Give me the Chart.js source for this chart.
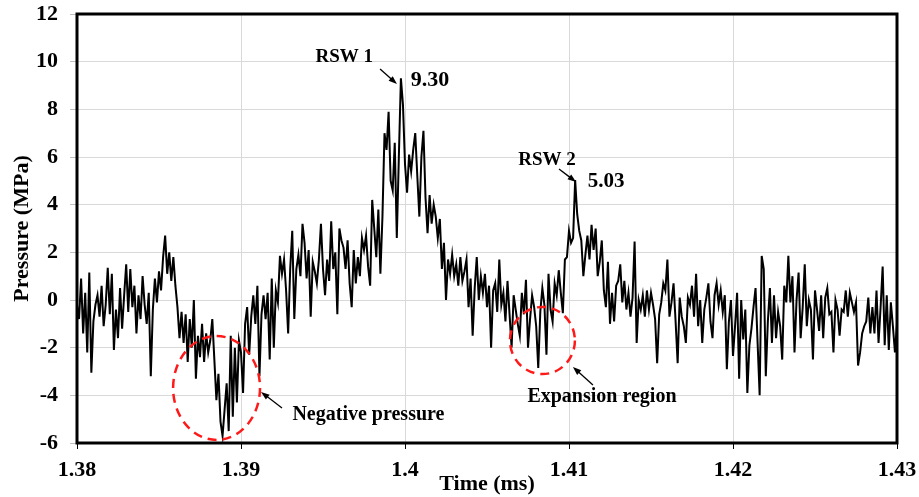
<!DOCTYPE html>
<html>
<head>
<meta charset="utf-8">
<title>Pressure vs time</title>
<script src="https://cdn.jsdelivr.net/npm/chart.js@4.4.0/dist/chart.umd.min.js"></script>
<style>
  html, body { margin: 0; padding: 0; background: #fff; }
  #wrap { width: 919px; height: 497px; }
</style>
</head>
<body>
<div id="wrap"><canvas id="pressureChart" width="919" height="497"></canvas></div>
<script>
// Sampling of the pressure trace (ms)
const timeStart = 1.38;
const timeStep = 0.000125;

// Pressure readings (MPa), one array per 0.01 ms window
const p1380 = [
  -0.2, -0.8, 0.9, -1.4, 0.3, -2.2, 1.15, -3.05, -0.9, -0.2,
  0.2, -0.7, 0.6, -1.1, -0.2, 1.35, -0.6, 1.1, -2.1, -0.4,
  -1.6, 0.5, -1.2, 0.2, 1.5, -0.5, 1.3, -0.3, 0.6, -1.4,
  0.2, -0.8, 1.0, -0.2, -1.0, 0.3, -3.2, -0.4, 0.9, -0.1,
  1.2, 0.4, 1.8, 2.7, 1.1, 2.0, 0.8, 1.8, 0.6, -0.3,
  -1.6, -0.5, -1.8, -0.6, -2.6, -0.8, -2.0, 0.0, -3.3, -1.5,
  -2.4, -1.0, -2.6, -1.4, -2.2, -1.7, -0.8, -2.5, -4.2, -3.1,
  -5.1, -5.7, -4.6, -3.5, -5.5, -1.5, -4.9, -2.0, -4.3, -1.7
];
const p1390 = [
  -2.2, -3.9, -1.0, -0.3, -2.3, -0.7, 0.2, -1.0, 0.6, -3.2,
  -0.6, 0.2, -0.8, 0.3, -2.5, 0.9, -2.0, 0.4, -0.1, 1.85,
  1.1, 1.7, 0.4, -1.4, 1.3, 2.9, -0.8, 1.3, 1.9, 1.0,
  3.2, 2.4, 0.9, 2.1, -0.7, 1.6, 1.2, 0.7, 1.7, 3.2,
  1.3, 0.2, 1.7, 0.8, 3.3, 1.3, 2.0, -0.6, 3.0, 2.5,
  2.2, 1.3, 2.5, 0.7, -0.3, 2.1, 0.7, 1.8, 1.0, 2.6,
  2.1, 2.7, 1.4, 0.6, 4.2, 3.0, 1.8, 3.8, 1.1, 3.5,
  7.0, 6.3, 7.9, 5.0, 4.6, 6.6, 2.6, 6.0, 9.3, 8.2
];
const p1400 = [
  5.7, 4.5, 6.1, 5.4, 6.3, 7.0, 5.2, 3.5, 6.0, 7.1,
  4.3, 2.8, 4.4, 3.2, 4.0, 3.5, 2.6, 3.4, 1.3, 2.4,
  0.0, 1.7, 1.1, 1.9, 1.0, 1.5, 0.6, 1.8, 0.8, 1.2,
  1.7, -0.3, 0.9, -1.5, 0.5, 1.8, 0.0, 1.0, 0.3, 1.1,
  -0.3, 0.6, -2.0, 0.4, 0.7, -0.5, 1.7, -0.2, 0.3, -0.9,
  0.8, -0.6, -2.0, 0.2, -0.4, -1.0, -1.5, 0.3, -0.6, 0.85,
  -2.0, -0.8, 0.2, -0.3, -1.1, -2.85, -0.5, 0.5, -0.2, -2.3,
  1.1, -0.4, -0.9, 0.7, 0.2, 1.25, 0.3, -0.55, 1.7, 1.8
];
const p1410 = [
  2.9, 2.4, 2.6, 5.03, 3.6, 2.9, 2.5, 1.0, 1.9, 2.7,
  1.7, 3.15, 2.1, 3.0, 1.0, 1.6, 2.5, 0.4, -0.3, 1.6,
  -1.0, 0.3, -0.9, 0.6, 0.8, 1.5, -0.1, 0.8, -0.4, 0.3,
  -0.7, 0.1, 2.45, -1.8, 0.0, -0.4, 0.2, -0.7, 0.4, -0.4,
  0.3, -0.2, -0.8, -2.65, -0.6, -0.1, 0.7, 0.4, 1.7, -0.7,
  -0.1, 0.7, -0.9, -2.65, 0.1, -0.7, -1.1, -1.8, 0.1, -0.2,
  0.6, -0.7, 1.1, -1.1, 0.0, -1.8, -0.4, 0.1, 0.7, -0.9,
  -1.6, 0.2, 0.7, -0.2, 0.4, -0.5, 0.2, -2.9, -0.9, 0.0
];
const p1420 = [
  -2.35, -1.1, 0.3, -3.3, 0.0, -1.65, -0.4, -3.9, -1.9, -1.2,
  -0.3, 0.5, -1.8, -4.0, 1.85, 1.3, -3.2, -0.9, 0.5, -1.8,
  0.2, -1.6, -0.5, -1.1, -2.5, 0.6, -0.1, 1.85, -0.1, 1.0,
  -2.2, 0.0, 1.15, -1.6, -0.3, 1.5, -1.1, 0.0, -0.4, -2.5,
  0.4, -0.4, -1.3, 0.2, -1.6, 0.1, 0.5, -0.6, -0.5, -2.2,
  0.0, -0.4, -1.5, -0.4, -0.5, 0.4, -0.7, 0.3, -0.1, -0.5,
  -0.1, -2.75, -2.2, -1.4, -1.1, -0.9, 0.1, -1.4, -0.3, -1.4,
  0.4, -1.8, -0.3, 1.4, -1.9, 0.2, -2.1, -0.1, -1.1, -2.2,
  -1.0
];

// Axis ticks
const xTickValues = [1.38, 1.39, 1.40, 1.41, 1.42, 1.43];
const yTickValues = [-6, -4, -2, 0, 2, 4, 6, 8, 10, 12];

// Annotations (data units)
const noteTexts = ['RSW 1', '9.30', 'RSW 2', '5.03', 'Negative pressure', 'Expansion region'];
const noteX = [1.39630, 1.40152, 1.40866, 1.41226, 1.39777, 1.41201];
const noteY = [10.2, 9.23, 5.87, 4.95, -4.83, -4.07];
const noteSize = [19, 22, 19, 21, 20, 20];

const arrowFromX = [1.39848, 1.40939, 1.39250, 1.41146];
const arrowFromY = [9.69, 5.50, -4.53, -3.57];
const arrowToX = [1.39951, 1.41043, 1.39122, 1.41024];
const arrowToY = [9.06, 4.95, -3.86, -2.81];

const ringX = [1.38851, 1.40838];
const ringY = [-3.69, -1.70];
const ringRx = [0.00265, 0.00198];
const ringRy = [2.18, 1.41];

const serif = '"Liberation Serif", "Times New Roman", serif';

const pressure = p1380.concat(p1390, p1400, p1410, p1420);
const points = pressure.map((p, i) => ({ x: timeStart + i * timeStep, y: p }));

function drawArrow(ctx, x1, y1, x2, y2) {
    const ang = Math.atan2(y2 - y1, x2 - x1);
    const head = 9;
    ctx.beginPath();
    ctx.moveTo(x1, y1);
    ctx.lineTo(x2 - Math.cos(ang) * head * 0.8, y2 - Math.sin(ang) * head * 0.8);
    ctx.stroke();
    ctx.beginPath();
    ctx.moveTo(x2, y2);
    ctx.lineTo(x2 - head * Math.cos(ang - 0.35), y2 - head * Math.sin(ang - 0.35));
    ctx.lineTo(x2 - head * Math.cos(ang + 0.35), y2 - head * Math.sin(ang + 0.35));
    ctx.closePath();
    ctx.fill();
}

// Frame, axis titles, circles, arrows and labels
const decorPlugin = {
    id: 'decor',
    afterDraw(chart) {
        const ctx = chart.ctx;
        const area = chart.chartArea;
        const sx = chart.scales.x;
        const sy = chart.scales.y;

        ctx.save();

        // thick black frame
        ctx.strokeStyle = '#000';
        ctx.lineWidth = 3;
        ctx.strokeRect(area.left, area.top, area.right - area.left, area.bottom - area.top);

        // dashed red rings
        ctx.strokeStyle = '#ff1a1a';
        ctx.lineWidth = 2.5;
        ctx.setLineDash([9, 6]);
        for (let i = 0; i < ringX.length; i++) {
            const cx = sx.getPixelForValue(ringX[i]);
            const cy = sy.getPixelForValue(ringY[i]);
            const rx = Math.abs(sx.getPixelForValue(ringX[i] + ringRx[i]) - cx);
            const ry = Math.abs(sy.getPixelForValue(ringY[i] + ringRy[i]) - cy);
            ctx.beginPath();
            ctx.ellipse(cx, cy, rx, ry, 0, 0, Math.PI * 2);
            ctx.stroke();
        }
        ctx.setLineDash([]);

        // arrows
        ctx.strokeStyle = '#000';
        ctx.fillStyle = '#000';
        ctx.lineWidth = 1.3;
        for (let i = 0; i < arrowFromX.length; i++) {
            drawArrow(ctx,
                sx.getPixelForValue(arrowFromX[i]), sy.getPixelForValue(arrowFromY[i]),
                sx.getPixelForValue(arrowToX[i]), sy.getPixelForValue(arrowToY[i]));
        }

        // labels
        ctx.textAlign = 'center';
        ctx.textBaseline = 'middle';
        for (let i = 0; i < noteTexts.length; i++) {
            ctx.font = 'bold ' + noteSize[i] + 'px ' + serif;
            ctx.fillText(noteTexts[i], sx.getPixelForValue(noteX[i]), sy.getPixelForValue(noteY[i]));
        }

        // axis titles
        ctx.font = 'bold 22px ' + serif;
        ctx.fillText('Time (ms)', (area.left + area.right) / 2, area.bottom + 41);
        ctx.translate(22, (area.top + area.bottom) / 2);
        ctx.rotate(-Math.PI / 2);
        ctx.fillText('Pressure (MPa)', 0, 0);

        ctx.restore();
    }
};

const chartCtx = document.getElementById('pressureChart').getContext('2d');

new Chart(chartCtx, {
    type: 'line',
    data: {
        datasets: [{
            data: points,
            borderColor: '#000',
            borderWidth: 2,
            pointRadius: 0,
            tension: 0,
            fill: false
        }]
    },
    options: {
        responsive: false,
        animation: false,
        devicePixelRatio: 1,
        layout: { padding: { top: 14, right: 22, left: 0, bottom: 0 } },
        plugins: {
            legend: { display: false },
            tooltip: { enabled: false }
        },
        scales: {
            x: {
                type: 'linear',
                min: 1.38,
                max: 1.43,
                afterBuildTicks: function(scale) {
                    scale.ticks = xTickValues.map(v => ({ value: v }));
                },
                afterFit: function(scale) {
                    scale.height = 54;
                    scale.paddingLeft = 0;
                    scale.paddingRight = 0;
                },
                ticks: {
                    callback: v => String(+v.toFixed(2)),
                    font: { family: serif, size: 22, weight: 'bold' },
                    color: '#000',
                    padding: 8,
                    maxRotation: 0,
                    autoSkip: false
                },
                grid: { color: '#d9d9d9', tickColor: '#000', tickLength: 6, lineWidth: 1 },
                border: { display: false }
            },
            y: {
                min: -6,
                max: 12,
                afterBuildTicks: function(scale) {
                    scale.ticks = yTickValues.map(v => ({ value: v }));
                },
                afterFit: function(scale) {
                    scale.width = 77;
                    scale.paddingTop = 0;
                    scale.paddingBottom = 0;
                },
                ticks: {
                    font: { family: serif, size: 22, weight: 'bold' },
                    color: '#000',
                    padding: 12
                },
                grid: { color: '#d9d9d9', tickColor: '#bfbfbf', tickLength: 7, lineWidth: 1 },
                border: { display: false }
            }
        }
    },
    plugins: [decorPlugin]
});
</script>
</body>
</html>
